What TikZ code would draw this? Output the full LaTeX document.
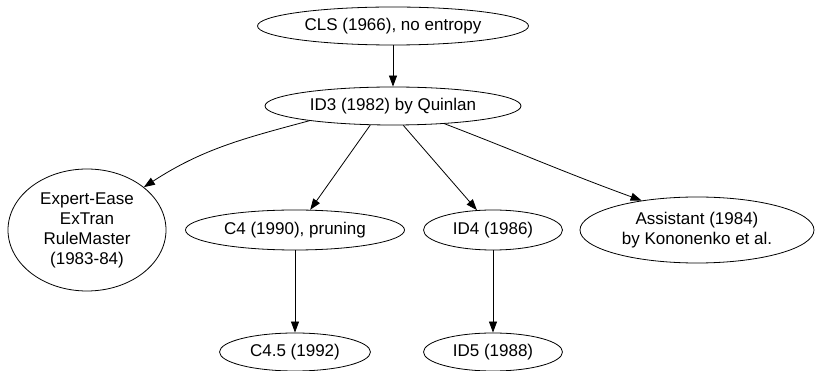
\documentclass[tikz,border=0pt]{standalone}
\usepackage{fontspec}
\setmainfont{Liberation Sans}
\usetikzlibrary{shapes.geometric,arrows.meta}
\begin{document}
\begin{tikzpicture}[x=1pt,y=-1pt,
  el/.style={draw,ellipse,inner sep=0pt,line width=0.8pt,font=\fontsize{17}{20}\selectfont,align=center},
  arr/.style={line width=0.8pt,-{Triangle[length=11pt,width=8pt]}}]
\useasboundingbox (0,0) rectangle (815,371);
\node[el,minimum width=271pt,minimum height=38pt] (cls) at (393,26) {CLS (1966), no entropy};
\node[el,minimum width=256pt,minimum height=38pt] (id3) at (393,106) {ID3 (1982) by Quinlan};
\node[el,minimum width=158pt,minimum height=122pt] (ee) at (87,230) {Expert-Ease\\ExTran\\RuleMaster\\(1983-84)};
\node[el,minimum width=219pt,minimum height=40pt] (c4) at (295,230) {C4 (1990), pruning};
\node[el,minimum width=139pt,minimum height=40pt] (id4) at (493,230) {ID4 (1986)};
\node[el,minimum width=234pt,minimum height=66pt] (as) at (697,230) {Assistant (1984)\\by Kononenko et al.};
\node[el,minimum width=151pt,minimum height=38pt] (c45) at (295,352) {C4.5 (1992)};
\node[el,minimum width=139pt,minimum height=38pt] (id5) at (493,352) {ID5 (1988)};
\draw[arr] (cls) -- (id3);
\draw[arr] (id3.190) to[out=195,in=33] (ee.37);
\draw[arr] (id3.220) -- (c4.53);
\draw[arr] (id3.298) -- (id4.129);
\draw[arr] (id3.341) to[out=-21,in=160] (as.152);
\draw[arr] (c4) -- (c45);
\draw[arr] (id4) -- (id5);
\end{tikzpicture}
\end{document}
